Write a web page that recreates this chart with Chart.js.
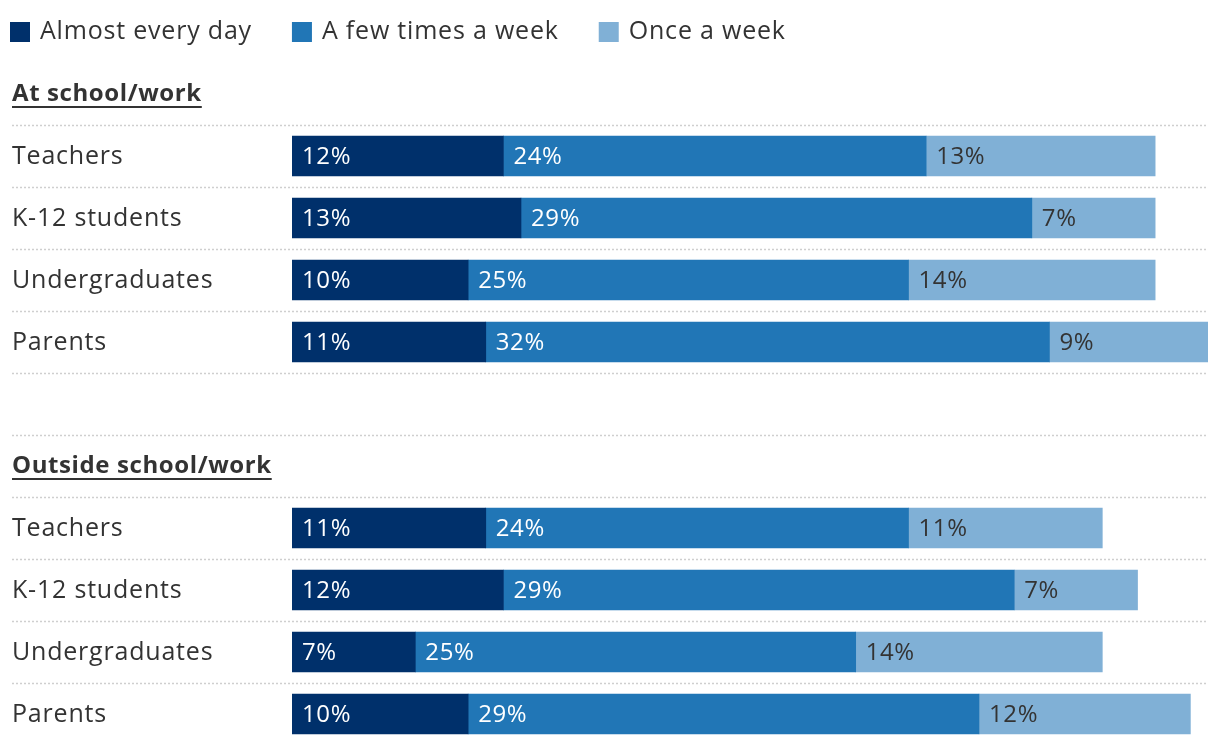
<!DOCTYPE html>
<html>
<head>
<meta charset="utf-8">
<script src="https://cdn.jsdelivr.net/npm/chart.js@4/dist/chart.umd.min.js"></script>
<style>
  body { margin: 0; background: #fff; }
  canvas { display: block; }
</style>
</head>
<body>
<canvas id="chart" width="1220" height="746"></canvas>
<script>
// Data
const groups = ["At school/work", "Outside school/work"];
const categories = ["Teachers", "K-12 students", "Undergraduates", "Parents"];
const seriesNames = ["Almost every day", "A few times a week", "Once a week"];
const colors = ["#00306b", "#2176b6", "#80b0d6"];
const labelColors = ["#ffffff", "#ffffff", "#333333"];

const atDaily = [12, 13, 10, 11];
const atFew = [24, 29, 25, 32];
const atOnce = [13, 7, 14, 9];

const outDaily = [11, 12, 7, 10];
const outFew = [24, 29, 25, 29];
const outOnce = [11, 7, 14, 12];

const FONT = "'Open Sans', sans-serif";

// rows: header, 4 categories, blank, header, 4 categories
const rows = [groups[0], ...categories, "", groups[1], ...categories];
const headerRows = [0, 6];
function build(a, b) {
    return [null, ...a, null, null, ...b];
}
const seriesData = [
    build(atDaily, outDaily),
    build(atFew, outFew),
    build(atOnce, outOnce)
];

// draws legend, row labels, headers, dotted grid and value labels
const decor = {
    id: "decor",
    beforeDatasetsDraw(chart) {
        const ctx = chart.ctx;
        const y = chart.scales.y;
        const step = y.getPixelForValue(1) - y.getPixelForValue(0);
        ctx.save();
        ctx.strokeStyle = "#cfcfcf";
        ctx.lineWidth = 1.5;
        ctx.setLineDash([2, 2]);
        for (let i = 1; i < rows.length; i++) {
            const py = Math.round(y.getPixelForValue(i) - step / 2) + 0.5;
            ctx.beginPath();
            ctx.moveTo(12, py);
            ctx.lineTo(chart.chartArea.right, py);
            ctx.stroke();
        }
        ctx.restore();
    },
    afterDatasetsDraw(chart) {
        const ctx = chart.ctx;
        const y = chart.scales.y;
        ctx.save();
        ctx.textBaseline = "middle";
        ctx.textAlign = "left";

        // legend
        let lx = 10;
        ctx.font = "25px " + FONT;
        ctx.letterSpacing = "0.8px";
        seriesNames.forEach((name, i) => {
            ctx.fillStyle = colors[i];
            ctx.fillRect(lx, 22, 20, 20);
            ctx.fillStyle = "#333333";
            ctx.fillText(name, lx + 30, 32);
            lx += 30 + ctx.measureText(name).width + 40;
        });

        // row labels and headers
        rows.forEach((label, i) => {
            if (!label) return;
            const py = y.getPixelForValue(i);
            ctx.fillStyle = "#333333";
            if (headerRows.includes(i)) {
                ctx.font = "bold 24px " + FONT;
                ctx.letterSpacing = "0.6px";
                ctx.fillText(label, 12, py);
                const w = ctx.measureText(label).width;
                ctx.fillRect(12, py + 12, w, 2);
            } else {
                ctx.font = "25px " + FONT;
                ctx.letterSpacing = "0.8px";
                ctx.fillText(label, 12, py + 1);
            }
        });

        // value labels
        ctx.font = "24px " + FONT;
        ctx.letterSpacing = "0.6px";
        chart.data.datasets.forEach((ds, di) => {
            chart.getDatasetMeta(di).data.forEach((bar, i) => {
                const v = ds.data[i];
                if (v == null) return;
                ctx.fillStyle = labelColors[di];
                ctx.fillText(v + "%", bar.base + 10, bar.y + 1);
            });
        });
        ctx.restore();
    }
};

new Chart(document.getElementById("chart"), {
    type: "bar",
    data: {
        labels: rows,
        datasets: seriesData.map((d, i) => ({
            label: seriesNames[i],
            data: d,
            backgroundColor: colors[i],
            barThickness: 40,
            borderWidth: 0
        }))
    },
    options: {
        indexAxis: "y",
        responsive: false,
        animation: false,
        layout: { padding: { left: 292, right: 12, top: 63, bottom: 1 } },
        scales: {
            x: { stacked: true, min: 0, max: 52, display: false },
            y: { stacked: true, display: false }
        },
        plugins: {
            legend: { display: false },
            tooltip: { enabled: false }
        }
    },
    plugins: [decor]
});
</script>
</body>
</html>
